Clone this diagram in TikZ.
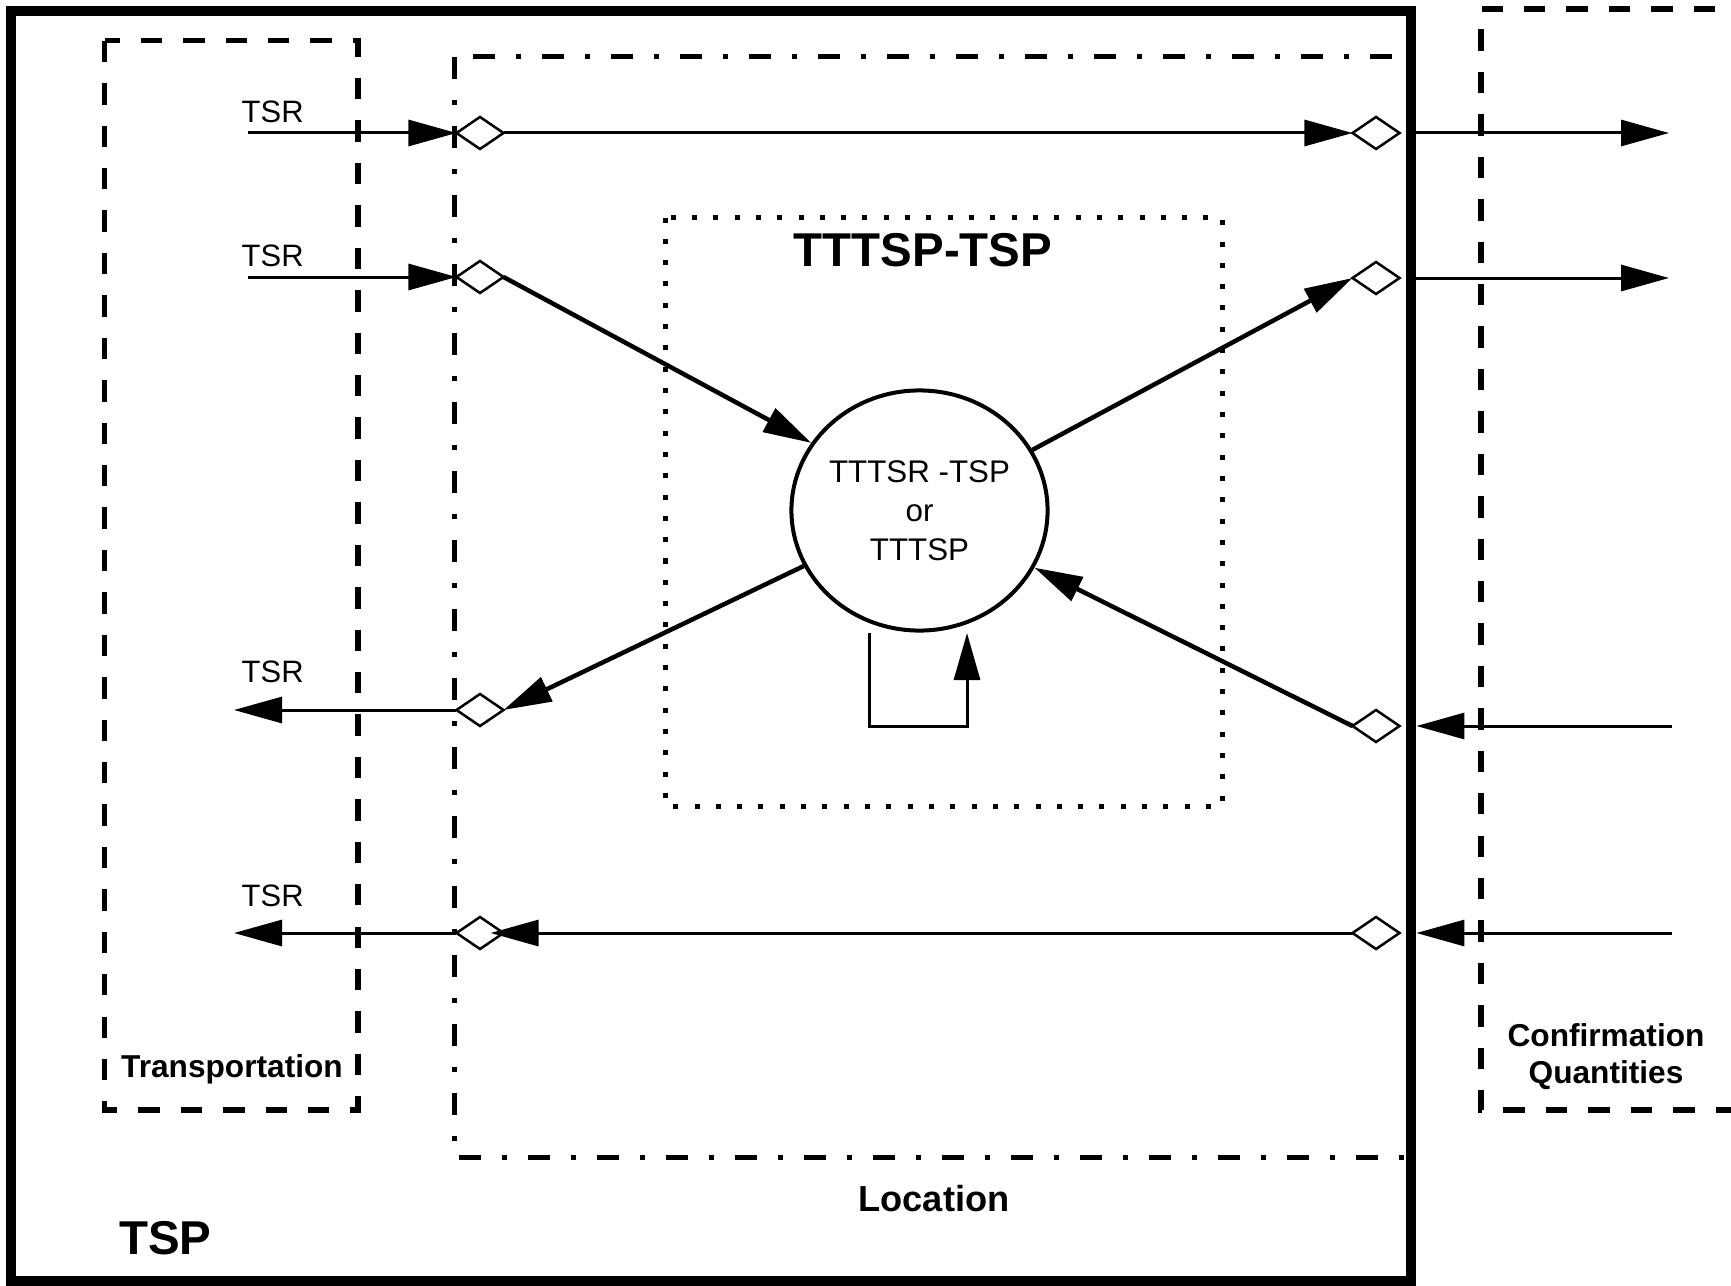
\documentclass[tikz,border=0pt]{standalone}
\usepackage{fontspec}
\setmainfont{Liberation Sans}
\usetikzlibrary{arrows.meta,shapes.geometric}
\begin{document}
\begin{tikzpicture}[x=0.01cm,y=-0.01cm,
  frame/.style={draw, line width=0.1cm, inner sep=0pt, outer sep=0.05cm},
  transbox/.style={draw, line width=0.055cm, dash pattern=on 0.214cm off 0.21cm},
  locbox/.style={draw, line width=0.05cm, dash pattern=on 0.22cm off 0.21cm on 0.05cm off 0.21cm},
  dotbox/.style={draw, line width=0.05cm, dash pattern=on 0.05cm off 0.163cm},
  diam/.style={diamond, draw, fill=white, line width=0.025cm, minimum width=0.47cm, minimum height=0.32cm, inner sep=0pt, outer sep=0pt},
  flow/.style={line width=0.03cm, -{Triangle[length=0.48cm,width=0.26cm]}},
  diag/.style={flow, line width=0.045cm},
  lbl/.style={font=\fontsize{8.8}{11}\selectfont, inner sep=0pt},
  blbl/.style={font=\fontsize{9}{10.5}\selectfont\bfseries, inner sep=0pt}
]
\useasboundingbox (0,0) rectangle (1731,1285);

% boxes
\node[frame, minimum width=14cm, minimum height=12.7cm] (tsp) at (711,646) {};
\draw[transbox] (104.5,40.7) rectangle (358,1110);
\draw[locbox] (454,57) rectangle (1411,1157);
\draw[dotbox] (665,217.5) rectangle (1222,806);
\draw[transbox] (1800,9) -- (1481,9) -- (1481,1110) -- (1800,1110);

% labels
\node[lbl, anchor=west] (t1) at (241,111.5) {TSR};
\node[lbl, anchor=west] (t2) at (241,256) {TSR};
\node[lbl, anchor=west] (t3) at (241,672) {TSR};
\node[lbl, anchor=west] (t4) at (241,896) {TSR};
\node[blbl, anchor=base west] (trans) at (120.5,1077) {Transportation};
\node[inner sep=0pt, font=\fontsize{13.5}{15}\selectfont\bfseries, anchor=base west] (tsplbl) at (118.6,1254) {TSP};
\node[inner sep=0pt, font=\fontsize{13.5}{15}\selectfont\bfseries, anchor=base] (title) at (923,266) {TTTSP-TSP};
\node[inner sep=0pt, font=\fontsize{10.3}{12}\selectfont\bfseries, anchor=base] (loc) at (934,1211.7) {Location};
\node[blbl, align=center] (conf) at (1606,1057) {Confirmation\\Quantities};

% process
\node[ellipse, draw, line width=0.04cm, minimum width=2.56cm, minimum height=2.40cm, inner sep=0pt,
      align=center, font=\fontsize{8.9}{11.1}\selectfont] (proc) at (919.5,510.5) {TTTSR -TSP\\or\\TTTSP};

% diamonds
\node[diam] (L1) at (480,133) {};
\node[diam] (L2) at (480,277) {};
\node[diam] (L3) at (480,710) {};
\node[diam] (L4) at (480,933) {};
\node[diam] (R1) at (1376,133) {};
\node[diam] (R2) at (1376,278) {};
\node[diam] (R3) at (1376,726) {};
\node[diam] (R4) at (1376,933) {};

% free ends
\coordinate (s1) at (248,133);
\coordinate (s2) at (248,277);
\coordinate (e3L) at (234,710);
\coordinate (e4L) at (234,933);
\coordinate (e1) at (1669,133);
\coordinate (e2) at (1669,278);
\coordinate (s3R) at (1672,726);
\coordinate (s4R) at (1672,933);
\coordinate (loopA) at (869,633);
\coordinate (loopB) at (967,633);

% row 1
\draw[flow] (s1) -- (L1.west);
\draw[flow] (L1.east) -- (R1.west);
\draw[flow] (tsp.east |- R1) -- (e1);
% row 2
\draw[flow] (s2) -- (L2.west);
\draw[diag] (L2.east) -- (proc.148);
\draw[diag] (proc) -- (R2.west);
\draw[flow] (tsp.east |- R2) -- (e2);
% row 3
\draw[diag] (proc) -- (L3.east);
\draw[flow] (L3.west) -- (e3L);
\draw[diag] (R3.west) -- (proc);
\draw[flow] (s3R) -- (tsp.east |- R3);
% row 4
\draw[flow] (L4.west) -- (e4L);
\draw[flow, shorten >=-0.13cm] (R4.west) -- (L4.east);
\draw[flow] (s4R) -- (tsp.east |- R4);
% self loop
\draw[line width=0.03cm, -{Triangle[length=0.47cm,width=0.26cm]}] (loopA) -- ++(0,93) -| (loopB);
\end{tikzpicture}
\end{document}
